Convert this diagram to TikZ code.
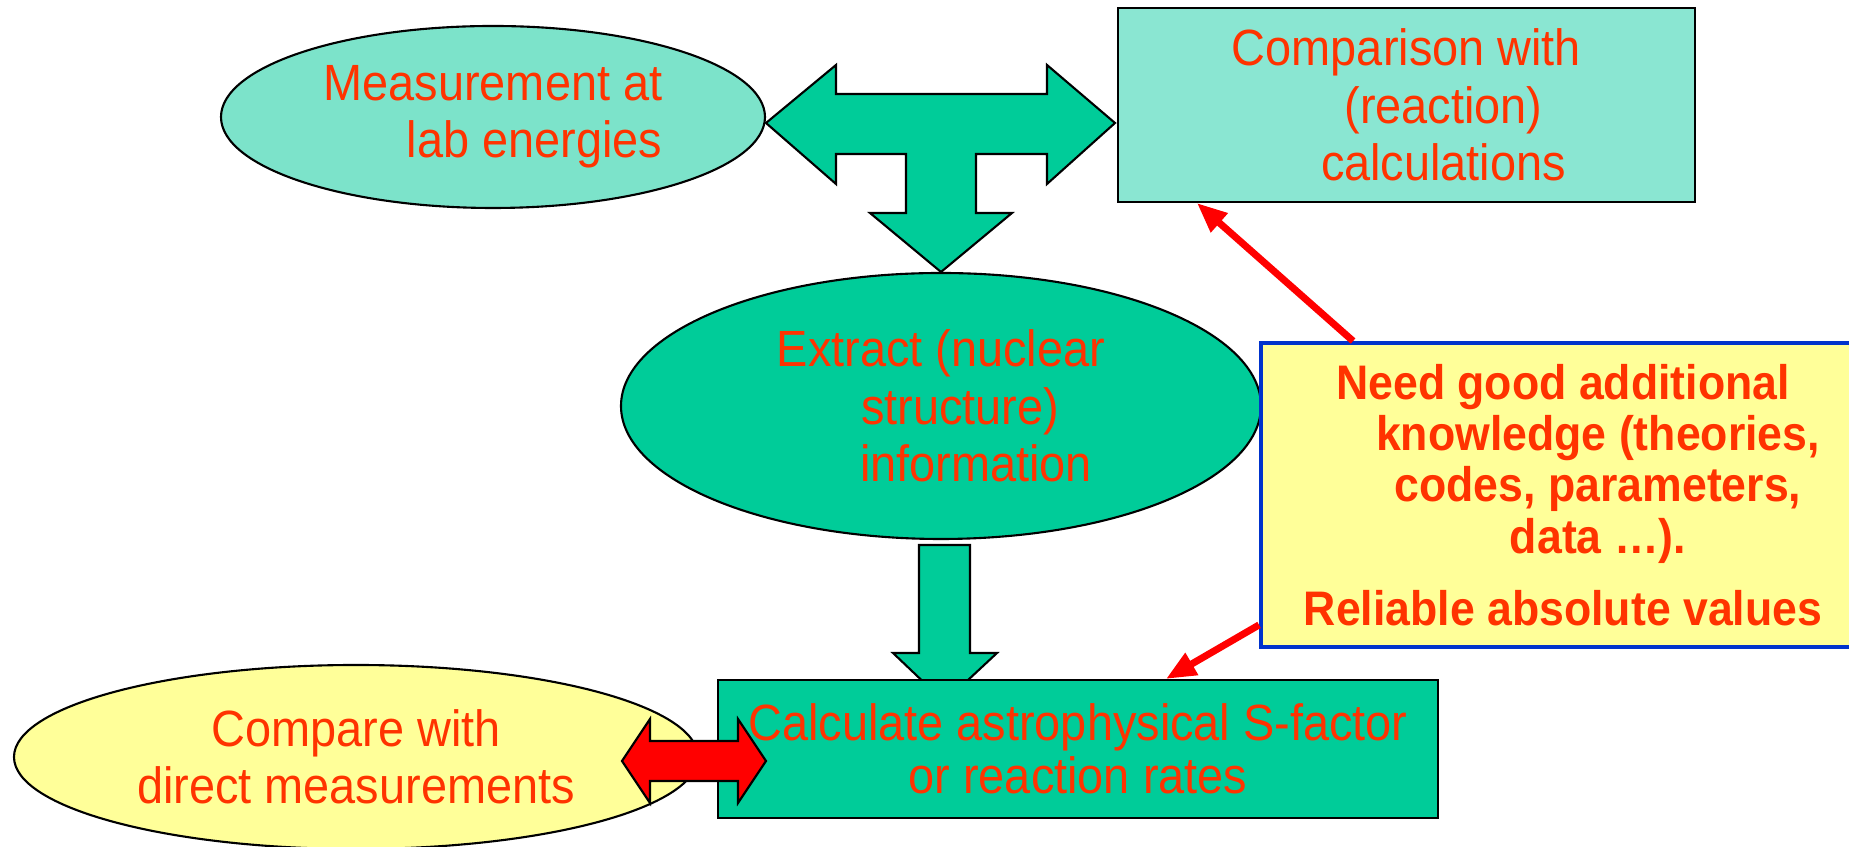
\documentclass[tikz,border=0pt]{standalone}
\usepackage{fontspec}
\setmainfont{Liberation Sans}[FakeStretch=0.92]
\usetikzlibrary{arrows.meta,calc,shapes.geometric,backgrounds}
\definecolor{tealL}{RGB}{124,227,202}
\definecolor{tealB}{RGB}{138,230,210}
\definecolor{tealD}{RGB}{0,204,153}
\definecolor{paleY}{RGB}{255,255,153}
\definecolor{txtR}{RGB}{255,51,0}
\definecolor{bluB}{RGB}{0,51,204}
\tikzset{
  tx/.style={text=txtR,font=\fontsize{14.5}{16.3}\selectfont},
  el/.style={ellipse,draw=black,line width=.6pt,inner sep=0pt,tx},
  bx/.style={rectangle,draw=black,line width=.6pt,inner sep=0pt,tx},
  blk/.style={draw=black,line width=.6pt,fill=tealD},
  dbl/.style={draw=black,line width=.6pt,fill=red},
  ptr/.style={-{Triangle[length=3mm,width=2.4mm]},draw=red,line width=2pt},
}

\begin{document}
\begin{tikzpicture}
\useasboundingbox (0,0) rectangle (18.49,-8.47);
% ---- top row
\node[el,fill=tealL,minimum width=5.44cm,minimum height=1.82cm,align=right] (meas) at (4.93,-1.17)
  {Measurement at\\lab energies};
\node[bx,fill=tealB,minimum width=5.77cm,minimum height=1.94cm,align=center] (cmp) at (14.065,-1.05)
  {Comparison with\\ \hspace*{0.74cm}(reaction)\\ \hspace*{0.74cm}calculations};
% ---- middle
\node[el,fill=tealD,minimum width=6.40cm,minimum height=2.66cm,align=center] (ext) at (9.41,-4.06)
  {Extract (nuclear\\ \hspace*{0.38cm}structure)\\ \hspace*{0.70cm}information};
\node[bx,draw=bluB,line width=1.1pt,fill=paleY,minimum width=6.04cm,minimum height=3.04cm,align=center,
  font=\bfseries\fontsize{13.8}{14.6}\selectfont] (need) at (15.63,-4.95)
  {Need good additional\\ \hspace*{0.7cm}knowledge (theories,\\ \hspace*{0.7cm}codes, parameters,\\
   \hspace*{0.7cm}data …).\\[6pt] Reliable absolute values};
% ---- bottom row
\node[el,fill=paleY,minimum width=6.84cm,minimum height=1.84cm,align=center] (cmpd) at (3.56,-7.57)
  {Compare with\\direct measurements};
\node[bx,fill=tealD,minimum width=7.20cm,minimum height=1.38cm,align=center,
  font=\fontsize{14.5}{15.2}\selectfont] (calc) at (10.78,-7.49)
  {Calculate astrophysical S-factor\\or reaction rates};
% ---- block arrows
\begin{scope}[on background layer]
  \draw[blk] (7.66,-1.23) -- (8.36,-0.65) -- (8.36,-0.94) -- (10.47,-0.94) -- (10.47,-0.65)
    -- (11.15,-1.23) -- (10.47,-1.84) -- (10.47,-1.54) -- (9.76,-1.54) -- (9.76,-2.13)
    -- (10.12,-2.13) -- (9.41,-2.72) -- (8.70,-2.13) -- (9.06,-2.13) -- (9.06,-1.54)
    -- (8.36,-1.54) -- (8.36,-1.84) -- cycle;
  \draw[blk] (9.19,-5.45) -- (9.70,-5.45) -- (9.70,-6.53) -- (9.97,-6.53) -- (9.445,-7.02)
    -- (8.93,-6.53) -- (9.19,-6.53) -- cycle;
\end{scope}
\draw[dbl] (6.22,-7.61) -- (6.50,-7.19) -- (6.50,-7.41) -- (7.38,-7.41) -- (7.38,-7.19)
  -- (7.66,-7.61) -- (7.38,-8.03) -- (7.38,-7.81) -- (6.50,-7.81) -- (6.50,-8.03) -- cycle;
% ---- pointers out of the note
\draw[ptr] ($(need.north west)+(0.94,0)$) -- ($(cmp.south west)+(0.80,0)$);
\draw[ptr] ($(need.south west)+(0,0.24)$) -- ($(calc.north west)+(4.49,0)$);
\end{tikzpicture}
\end{document}
